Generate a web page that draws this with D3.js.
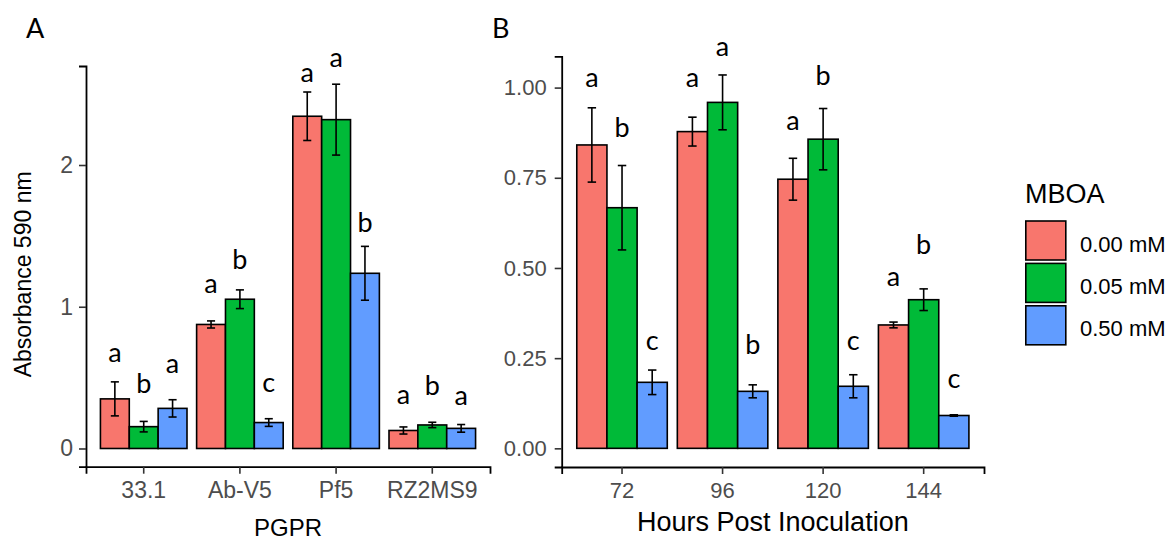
<!DOCTYPE html>
<html>
<head>
<meta charset="utf-8">
<script src="https://cdn.jsdelivr.net/npm/d3@7"></script>
<style>
  body { margin: 0; background: #fff; }
  svg { display: block; }
</style>
</head>
<body>
<div id="chart"></div>
<script>
// MBOA doses (fill groups)
const doses = ["0.00 mM", "0.05 mM", "0.50 mM"];
const doseColors = ["#F8766D", "#00BA38", "#619CFF"];

// Panel A: absorbance by PGPR strain
const strains = ["33.1", "Ab-V5", "Pf5", "RZ2MS9"];
const absA_000 = [0.350, 0.875, 2.344, 0.127];
const absA_005 = [0.154, 1.053, 2.320, 0.166];
const absA_050 = [0.283, 0.183, 1.236, 0.142];
const seA_000 = [0.120, 0.025, 0.171, 0.025];
const seA_005 = [0.037, 0.066, 0.250, 0.019];
const seA_050 = [0.061, 0.027, 0.190, 0.027];
const letA_000 = ["a", "a", "a", "a"];
const letA_005 = ["b", "b", "a", "b"];
const letA_050 = ["a", "c", "b", "a"];
const letYA_000 = [0.613, 1.097, 2.589, 0.315];
const letYA_005 = [0.393, 1.267, 2.694, 0.376];
const letYA_050 = [0.535, 0.400, 1.529, 0.308];
const ticksA = [0, 1, 2];

// Panel B: absorbance by hours post inoculation
const hours = ["72", "96", "120", "144"];
const absB_000 = [0.841, 0.878, 0.746, 0.342];
const absB_005 = [0.667, 0.959, 0.857, 0.412];
const absB_050 = [0.183, 0.158, 0.172, 0.091];
const seB_000 = [0.103, 0.040, 0.058, 0.008];
const seB_005 = [0.117, 0.076, 0.085, 0.030];
const seB_050 = [0.034, 0.018, 0.032, 0.002];
const letB_000 = ["a", "a", "a", "a"];
const letB_005 = ["b", "a", "b", "b"];
const letB_050 = ["c", "b", "c", "c"];
const letYB_000 = [1.002, 1.002, 0.882, 0.450];
const letYB_005 = [0.863, 1.088, 1.007, 0.538];
const letYB_050 = [0.273, 0.261, 0.273, 0.168];
const ticksB = [0, 0.25, 0.5, 0.75, 1];

const width = 1168, height = 541;

const svg = d3.select("#chart")
    .append("svg")
    .attr("width", width)
    .attr("height", height);

// build long-form rows for one panel
function makeRows(cats, means, ses, lets, letYs) {
    const rows = [];
    cats.forEach((c, i) => {
        doses.forEach((d, j) => {
            rows.push({cat: c, dose: d, mean: means[j][i], se: ses[j][i], letter: lets[j][i], ly: letYs[j][i]});
        });
    });
    return rows;
}

function drawPanel(p) {
    const g = svg.append("g");

    const maxTop = d3.max(p.rows, d => d.mean + d.se);
    const y = d3.scaleLinear()
        .domain([-0.05 * maxTop, 1.05 * maxTop])
        .range([p.bottom, p.top]);

    // ggplot-like discrete axis: 0.6 units expansion, bars 0.9 wide
    const x = d3.scaleBand()
        .domain(p.cats)
        .range([p.left, p.right])
        .paddingInner(0.1)
        .paddingOuter(0.15);

    const xSub = d3.scaleBand()
        .domain(doses)
        .range([0, x.bandwidth()]);

    const color = d3.scaleOrdinal().domain(doses).range(doseColors);

    // bars
    g.selectAll("rect.bar")
        .data(p.rows)
        .enter()
        .append("rect")
        .attr("class", "bar")
        .attr("x", d => x(d.cat) + xSub(d.dose))
        .attr("y", d => y(d.mean))
        .attr("width", xSub.bandwidth())
        .attr("height", d => y(0) - y(d.mean))
        .attr("fill", d => color(d.dose))
        .attr("stroke", "#000")
        .attr("stroke-width", 1.6);

    // error bars
    const capW = xSub.bandwidth() * 0.14;
    const err = g.selectAll("g.err")
        .data(p.rows)
        .enter()
        .append("g")
        .attr("class", "err")
        .attr("stroke", "#000")
        .attr("stroke-width", 1.6);

    err.append("line")
        .attr("x1", d => x(d.cat) + xSub(d.dose) + xSub.bandwidth() / 2)
        .attr("x2", d => x(d.cat) + xSub(d.dose) + xSub.bandwidth() / 2)
        .attr("y1", d => y(d.mean - d.se))
        .attr("y2", d => y(d.mean + d.se));
    err.append("line")
        .attr("x1", d => x(d.cat) + xSub(d.dose) + xSub.bandwidth() / 2 - capW)
        .attr("x2", d => x(d.cat) + xSub(d.dose) + xSub.bandwidth() / 2 + capW)
        .attr("y1", d => y(d.mean + d.se))
        .attr("y2", d => y(d.mean + d.se));
    err.append("line")
        .attr("x1", d => x(d.cat) + xSub(d.dose) + xSub.bandwidth() / 2 - capW)
        .attr("x2", d => x(d.cat) + xSub(d.dose) + xSub.bandwidth() / 2 + capW)
        .attr("y1", d => y(d.mean - d.se))
        .attr("y2", d => y(d.mean - d.se));

    // significance letters
    g.selectAll("text.letter")
        .data(p.rows)
        .enter()
        .append("text")
        .attr("class", "letter")
        .attr("x", d => x(d.cat) + xSub(d.dose) + xSub.bandwidth() / 2)
        .attr("y", d => y(d.ly))
        .attr("text-anchor", "middle")
        .style("font-family", "Lato, 'Open Sans', sans-serif")
        .style("font-size", "27px")
        .attr("fill", "#000")
        .text(d => d.letter);

    // axes
    const yAxis = g.append("g")
        .attr("transform", `translate(${p.left},0)`)
        .call(d3.axisLeft(y).tickValues(p.ticks).tickFormat(p.fmt).tickSizeOuter(0).tickSize(7).tickPadding(p.yPad));

    const xAxis = g.append("g")
        .attr("transform", `translate(0,${p.bottom})`)
        .call(d3.axisBottom(x).tickSizeOuter(0).tickSize(7).tickPadding(8));

    [yAxis, xAxis].forEach(a => {
        a.select(".domain").attr("stroke", "#000").attr("stroke-width", 1.8);
        a.selectAll(".tick line").attr("stroke", "#333").attr("stroke-width", 1.6);
        a.selectAll(".tick text")
            .attr("fill", "#4d4d4d")
            .style("font-family", "'Liberation Sans', Arial, sans-serif");
    });
    yAxis.selectAll(".tick text").style("font-size", p.yTickSize + "px");
    xAxis.selectAll(".tick text").style("font-size", p.xTickSize + "px");

    // x-axis title
    g.append("text")
        .attr("x", (p.left + p.right) / 2)
        .attr("y", p.xTitleY)
        .attr("text-anchor", "middle")
        .style("font-family", "'Liberation Sans', Arial, sans-serif")
        .style("font-size", p.xTitleSize + "px")
        .attr("fill", "#000")
        .text(p.xTitle);

    // y-axis title
    if (p.yTitle) {
        g.append("text")
            .attr("transform", "rotate(-90)")
            .attr("x", -(p.top + p.bottom) / 2 - 8)
            .attr("y", p.yTitleX)
            .attr("text-anchor", "middle")
            .style("font-family", "'Liberation Sans', Arial, sans-serif")
            .style("font-size", "23px")
            .attr("fill", "#000")
            .text(p.yTitle);
    }

    // panel tag
    g.append("text")
        .attr("x", p.tagX)
        .attr("y", 38)
        .style("font-family", "Lato, 'Open Sans', sans-serif")
        .style("font-size", "27px")
        .attr("fill", "#000")
        .text(p.tag);
}

drawPanel({
    rows: makeRows(strains, [absA_000, absA_005, absA_050], [seA_000, seA_005, seA_050],
                   [letA_000, letA_005, letA_050], [letYA_000, letYA_005, letYA_050]),
    cats: strains,
    ticks: ticksA,
    fmt: d3.format("d"),
    left: 86, right: 490, top: 66, bottom: 466.7,
    yPad: 6, yTickSize: 23, xTickSize: 23,
    xTitle: "PGPR", xTitleY: 536, xTitleSize: 24,
    yTitle: "Absorbance 590 nm", yTitleX: 31,
    tag: "A", tagX: 26
});

drawPanel({
    rows: makeRows(hours, [absB_000, absB_005, absB_050], [seB_000, seB_005, seB_050],
                   [letB_000, letB_005, letB_050], [letYB_000, letYB_005, letYB_050]),
    cats: hours,
    ticks: ticksB,
    fmt: d3.format(".2f"),
    left: 561.7, right: 984, top: 56.3, bottom: 467,
    yPad: 8, yTickSize: 22, xTickSize: 22,
    xTitle: "Hours Post Inoculation", xTitleY: 531, xTitleSize: 27,
    yTitle: null,
    tag: "B", tagX: 492
});

// legend
const legend = svg.append("g").attr("transform", "translate(1025,0)");
legend.append("text")
    .attr("x", 0)
    .attr("y", 203)
    .style("font-family", "'Liberation Sans', Arial, sans-serif")
    .style("font-size", "27px")
    .attr("fill", "#000")
    .text("MBOA");

const items = legend.selectAll(".legend")
    .data(doses)
    .enter().append("g")
    .attr("class", "legend")
    .attr("transform", (d, i) => `translate(0,${221 + i * 42.4})`);

items.append("rect")
    .attr("x", 0.8)
    .attr("y", 0)
    .attr("width", 40)
    .attr("height", 39)
    .attr("fill", (d, i) => doseColors[i])
    .attr("stroke", "#000")
    .attr("stroke-width", 1.6);

items.append("text")
    .attr("x", 55)
    .attr("y", 30.5)
    .style("font-family", "'Liberation Sans', Arial, sans-serif")
    .style("font-size", "22px")
    .attr("fill", "#000")
    .text(d => d);
</script>
</body>
</html>
